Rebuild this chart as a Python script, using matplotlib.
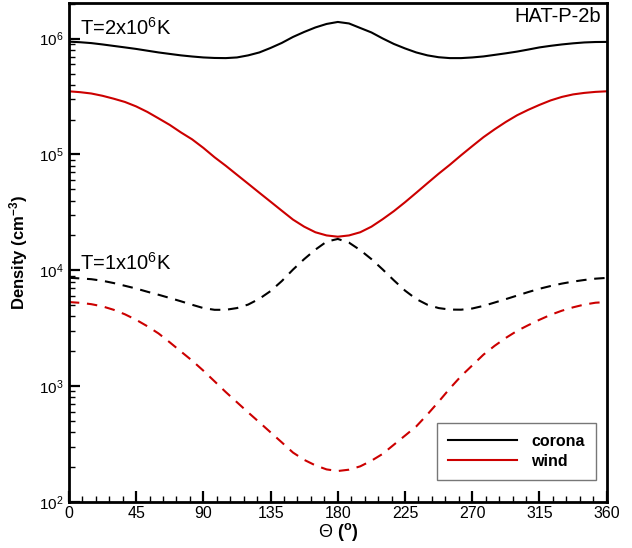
"""
Density vs. orbital angle for HAT-P-2b: corona and wind at two temperatures.
"""

import numpy as np
import matplotlib
matplotlib.use("Agg")
import matplotlib.pyplot as plt
from matplotlib.ticker import MultipleLocator, LogLocator, LogFormatterMathtext

# ── Data (theta in degrees, density in cm^-3) ────────────────────────────────
theta = [0, 7.5, 15, 22.5, 30, 37.5, 45, 52.5, 60, 67.5, 75, 82.5, 90,
         97.5, 105, 112.5, 120, 127.5, 135, 142.5, 150, 157.5, 165, 172.5, 180,
         187.5, 195, 202.5, 210, 217.5, 225, 232.5, 240, 247.5, 255, 262.5, 270,
         277.5, 285, 292.5, 300, 307.5, 315, 322.5, 330, 337.5, 345, 352.5, 360]

# T = 2x10^6 K (solid)
corona_2mk = [9.42e5, 9.31e5, 9.15e5, 8.91e5, 8.65e5, 8.40e5, 8.15e5, 7.87e5,
              7.60e5, 7.38e5, 7.17e5, 7.01e5, 6.88e5, 6.81e5, 6.79e5, 6.88e5,
              7.17e5, 7.60e5, 8.31e5, 9.18e5, 1.034e6, 1.142e6, 1.249e6, 1.339e6,
              1.393e6, 1.352e6, 1.236e6, 1.131e6, 1.004e6, 9.00e5, 8.23e5, 7.60e5,
              7.17e5, 6.91e5, 6.79e5, 6.79e5, 6.88e5, 7.02e5, 7.24e5, 7.47e5,
              7.73e5, 8.05e5, 8.40e5, 8.67e5, 8.91e5, 9.11e5, 9.27e5, 9.35e5, 9.37e5]
wind_2mk = [3.51e5, 3.45e5, 3.36e5, 3.21e5, 3.03e5, 2.84e5, 2.60e5, 2.33e5,
            2.05e5, 1.80e5, 1.55e5, 1.35e5, 1.14e5, 9.46e4, 7.99e4, 6.68e4,
            5.59e4, 4.67e4, 3.91e4, 3.27e4, 2.74e4, 2.38e4, 2.13e4, 2.00e4,
            1.95e4, 2.00e4, 2.13e4, 2.38e4, 2.76e4, 3.24e4, 3.87e4, 4.67e4,
            5.65e4, 6.82e4, 8.15e4, 9.84e4, 1.18e5, 1.41e5, 1.65e5, 1.91e5,
            2.18e5, 2.43e5, 2.68e5, 2.93e5, 3.14e5, 3.30e5, 3.40e5, 3.47e5, 3.51e5]

# T = 1x10^6 K (dashed)
corona_1mk = [8.62e3, 8.51e3, 8.38e3, 8.12e3, 7.76e3, 7.35e3, 6.96e3, 6.53e3,
              6.15e3, 5.77e3, 5.40e3, 5.04e3, 4.72e3, 4.56e3, 4.56e3, 4.72e3,
              5.06e3, 5.68e3, 6.62e3, 8.07e3, 1.014e4, 1.249e4, 1.508e4, 1.768e4,
              1.865e4, 1.733e4, 1.494e4, 1.249e4, 1.018e4, 8.20e3, 6.68e3, 5.65e3,
              5.04e3, 4.72e3, 4.58e3, 4.57e3, 4.68e3, 4.93e3, 5.27e3, 5.64e3,
              6.05e3, 6.49e3, 6.93e3, 7.32e3, 7.68e3, 7.99e3, 8.25e3, 8.47e3, 8.60e3]
wind_1mk = [5.32e3, 5.24e3, 5.10e3, 4.88e3, 4.56e3, 4.17e3, 3.74e3, 3.29e3,
            2.85e3, 2.39e3, 1.99e3, 1.66e3, 1.36e3, 1.10e3, 889, 726,
            593, 487, 399, 327, 267, 231, 207, 191,
            185, 190, 203, 227, 260, 312, 374, 449,
            570, 734, 955, 1.22e3, 1.51e3, 1.87e3, 2.23e3, 2.61e3,
            3.00e3, 3.36e3, 3.74e3, 4.13e3, 4.48e3, 4.79e3, 5.06e3, 5.25e3, 5.32e3]

x_ticks = [0, 45, 90, 135, 180, 225, 270, 315, 360]


def main():
    plt.rcParams["font.family"] = ["Liberation Sans", "DejaVu Sans"]
    plt.rcParams["mathtext.fontset"] = "custom"
    plt.rcParams["mathtext.rm"] = "Liberation Sans"
    plt.rcParams["mathtext.it"] = "Liberation Sans:italic"
    plt.rcParams["mathtext.bf"] = "Liberation Sans:bold"

    RED = "#cc0000"
    DASH = (5, 3.7)

    fig = plt.figure(figsize=(6.32, 5.48), dpi=100)
    ax = fig.add_axes([0.109, 0.084, 0.851, 0.9105])

    ax.plot(theta, corona_2mk, color="black", lw=1.5, label="corona")
    ax.plot(theta, wind_2mk, color=RED, lw=1.5, label="wind")
    ax.plot(theta, corona_1mk, color="black", lw=1.5, dashes=DASH)
    ax.plot(theta, wind_1mk, color=RED, lw=1.5, dashes=DASH)

    ax.set_yscale("log")
    ax.set_xlim(0, 360)
    ax.set_ylim(1e2, 2.03e6)

    # ── Ticks: inward, left and bottom only ──────────────────────────────────
    ax.set_xticks(x_ticks)
    ax.xaxis.set_minor_locator(MultipleLocator(9))
    ax.yaxis.set_major_locator(LogLocator(base=10))
    ax.yaxis.set_minor_locator(LogLocator(base=10, subs=np.arange(2, 10)))
    ax.yaxis.set_major_formatter(LogFormatterMathtext())
    ax.tick_params(which="both", direction="in", top=False, right=False)
    ax.tick_params(which="major", length=8, width=1.6, labelsize=11.5)
    ax.tick_params(which="minor", length=4.5, width=1.0)
    ax.tick_params(axis="y", which="major", labelsize=11, pad=4)
    ax.tick_params(axis="x", which="major", pad=3)
    for sp in ax.spines.values():
        sp.set_linewidth(2.0)

    ax.set_xlabel(r"Θ $\mathbf{(^o)}$", fontsize=13, labelpad=0)
    ax.set_ylabel(r"Density (cm$^{\mathbf{-3}}$)", fontsize=12,
                  fontweight="bold", labelpad=6)

    # ── Annotations ──────────────────────────────────────────────────────────
    ax.text(0.02, 0.936, r"T=2x10$^6$K", transform=ax.transAxes,
            fontsize=14.5, va="baseline", ha="left")
    ax.text(0.02, 0.466, r"T=1x10$^6$K", transform=ax.transAxes,
            fontsize=14.5, va="baseline", ha="left")
    ax.text(0.99, 0.9625, "HAT-P-2b", transform=ax.transAxes,
            fontsize=14.5, va="baseline", ha="right")

    leg = ax.legend(loc="lower right", bbox_to_anchor=(0.98, 0.044),
                    fontsize=11.5, frameon=True, fancybox=False,
                    handlelength=4.3, handletextpad=0.9,
                    borderpad=0.7, labelspacing=0.3, borderaxespad=0)
    leg.get_frame().set_edgecolor("#555555")
    leg.get_frame().set_linewidth(1.0)
    for t in leg.get_texts():
        t.set_fontweight("bold")

    fig.savefig("out.png", dpi=100)


if __name__ == "__main__":
    main()
